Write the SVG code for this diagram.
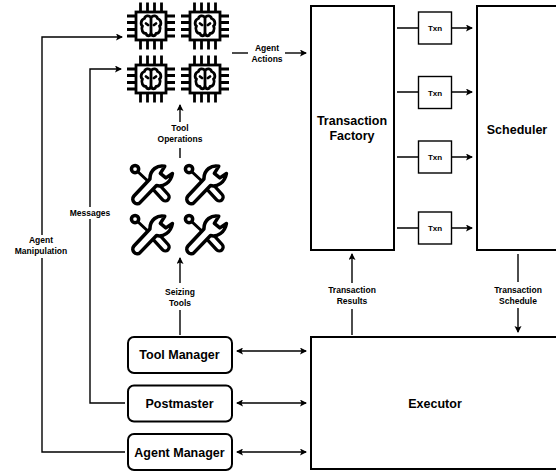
<svg xmlns="http://www.w3.org/2000/svg" width="556" height="473" viewBox="0 0 556 473">
<style>
text{font-family:"Liberation Sans",Arial,sans-serif;font-weight:700;fill:#000;text-anchor:middle}
.n{font-size:12.5px}.t{font-size:8.5px}.s{font-size:8px}
.box{fill:#fff;stroke:#000;stroke-width:2}
.txn{fill:#fff;stroke:#000;stroke-width:1.4}
.c{fill:none;stroke:#000;stroke-width:1.4}
.a{marker-end:url(#ah)}
.d{marker-end:url(#ah);marker-start:url(#as)}
.pin{fill:none;stroke:#000;stroke-width:2.800}
.bd{fill:#fff;stroke:#000;stroke-width:2.800}
.br{fill:none;stroke:#000;stroke-width:2.800;stroke-linejoin:round;stroke-linecap:round}
.wr{fill:#fff;stroke:#000;stroke-width:3.200;stroke-linejoin:round;stroke-linecap:round}
</style>
<defs>
<marker id="ah" markerWidth="8" markerHeight="8" refX="6" refY="3.500" orient="auto" markerUnits="userSpaceOnUse"><path d="M0 0L7 3.500L0 7L1.500 3.500Z" fill="#000"/></marker>
<marker id="as" markerWidth="8" markerHeight="8" refX="1" refY="3.500" orient="auto" markerUnits="userSpaceOnUse"><path d="M7 0L0 3.500L7 7L5.500 3.500Z" fill="#000"/></marker>
<g id="chip">
<path class="pin" d="M-10.500 -23.500V-13M-3.500 -23.500V-13M3.500 -23.500V-13M10.500 -23.500V-13M-10.500 23.500V13M-3.500 23.500V13M3.500 23.500V13M10.500 23.500V13M-24 -10H-13M-24 -3.500H-13M-24 3.500H-13M-24 10H-13M24 -10H13M24 -3.500H13M24 3.500H13M24 10H13"/>
<rect class="bd" x="-15" y="-14" width="30" height="28"/>
<path class="br" d="M0 -8.500C-2 -11 -6 -10.500 -6.500 -7.500C-10.500 -6.500 -10.500 -1 -8.500 0C-10.500 3.500 -8 7.500 -5 7.500C-4 10.500 -1 10.500 0 7.500C1 10.500 4 10.500 5 7.500C8 7.500 10.500 3.500 8.500 0C10.500 -1 10.500 -6.500 6.500 -7.500C6 -10.500 2 -11 0 -8.500Z"/>
<path class="br" d="M0 -8.500V7.500M-5 -2.500L-3 -1M5 -2.500L3 -1"/>
</g>
<g id="tools" transform="scale(1.1)">
<path class="wr" d="M6 6L21 20" style="stroke-width:2.600"/>
<circle class="wr" cx="5.500" cy="5.500" r="3.300"/>
<path d="M23 20L33 31" fill="none" stroke="#000" stroke-width="10" stroke-linecap="round"/>
<path d="M23 20L33 31" fill="none" stroke="#fff" stroke-width="4" stroke-linecap="round"/>
<path class="wr" d="M32.500 3C26 1.500 19 6 19 14.500L4.500 30C1 34 7 39.500 10 36L25 20.500C31 22 38 18 39.500 9.500L33.500 13.500L28.500 9.500Z"/>
</g>
</defs>
<g id="connectors">
<path class="c a" d="M125 452H42V37H122"/>
<path class="c a" d="M125 403H90V69H121"/>
<path class="c a" d="M180 122V105"/>
<path class="c" d="M180 158V148"/>
<path class="c a" d="M180 283V258"/>
<path class="c" d="M180 335V310"/>
<path class="c" d="M232 53H248"/>
<path class="c a" d="M285 53H306"/>
<path class="c a" d="M352 283V254"/>
<path class="c" d="M352 335V309"/>
<path class="c" d="M518 254V282"/>
<path class="c a" d="M518 308V332"/>
<path class="c a" d="M397 28H472"/>
<path class="c a" d="M397 92H472"/>
<path class="c a" d="M397 157H472"/>
<path class="c a" d="M397 228H472"/>
<path class="c d" d="M237 351H306"/>
<path class="c d" d="M237 403H306"/>
<path class="c d" d="M237 452H306"/>
</g>
<g id="agent-1"><use href="#chip" x="151" y="26"/></g>
<g id="agent-2"><use href="#chip" x="205" y="26"/></g>
<g id="agent-3"><use href="#chip" x="151" y="79"/></g>
<g id="agent-4"><use href="#chip" x="205" y="79"/></g>
<g id="tool-1"><use href="#tools" x="129" y="163"/></g>
<g id="tool-2"><use href="#tools" x="183" y="163"/></g>
<g id="tool-3"><use href="#tools" x="129" y="213"/></g>
<g id="tool-4"><use href="#tools" x="183" y="213"/></g>
<g id="transaction-factory"><rect class="box" x="311" y="6" width="83" height="244"/><text class="n" x="352" y="125">Transaction</text><text class="n" x="352" y="140">Factory</text></g>
<g id="scheduler"><rect class="box" x="477" y="6" width="90" height="244"/><text class="n" x="517" y="134">Scheduler</text></g>
<g id="executor"><rect class="box" x="311" y="337" width="256" height="132"/><text class="n" x="435" y="408">Executor</text></g>
<g id="txn-1"><rect class="txn" x="418.500" y="12" width="33" height="32"/><text class="s" x="435" y="31">Txn</text></g>
<g id="txn-2"><rect class="txn" x="418.500" y="76.500" width="33" height="32"/><text class="s" x="435" y="95.500">Txn</text></g>
<g id="txn-3"><rect class="txn" x="418.500" y="141" width="33" height="32"/><text class="s" x="435" y="160">Txn</text></g>
<g id="txn-4"><rect class="txn" x="418.500" y="212" width="33" height="32"/><text class="s" x="435" y="231">Txn</text></g>
<g id="tool-manager"><rect class="box" x="128" y="337" width="104" height="36" rx="6"/><text class="n" x="179.500" y="359">Tool Manager</text></g>
<g id="postmaster"><rect class="box" x="128" y="385.500" width="104" height="36" rx="6"/><text class="n" x="179.500" y="408">Postmaster</text></g>
<g id="agent-manager"><rect class="box" x="128" y="434" width="104" height="36" rx="6"/><text class="n" x="179.500" y="457">Agent Manager</text></g>
<g id="labels">
<rect x="66" y="207" width="48" height="12" fill="#fff"/><text class="t" x="90" y="216">Messages</text>
<rect x="10" y="235" width="62" height="23" fill="#fff"/><text class="t" x="41" y="243">Agent</text><text class="t" x="41" y="254">Manipulation</text>
<text class="t" x="180" y="131">Tool</text><text class="t" x="180" y="142">Operations</text>
<text class="t" x="180" y="295">Seizing</text><text class="t" x="180" y="306">Tools</text>
<text class="t" x="267" y="51">Agent</text><text class="t" x="267" y="62">Actions</text>
<text class="t" x="352" y="293">Transaction</text><text class="t" x="352" y="304">Results</text>
<text class="t" x="518" y="293">Transaction</text><text class="t" x="518" y="304">Schedule</text>
</g>
</svg>
